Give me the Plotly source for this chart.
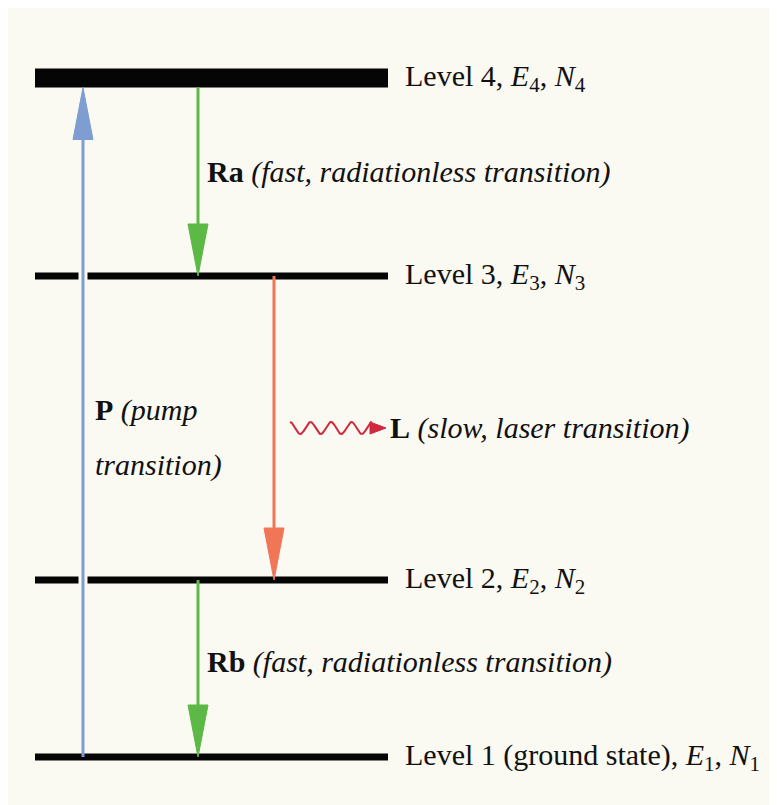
import numpy as np
import plotly.graph_objects as go

# ---------------- data ----------------
level_names = ["Level 1 (ground state)", "Level 2", "Level 3", "Level 4"]
level_index = [1, 2, 3, 4]
level_energy = [48, 225, 529, 727]          # arbitrary energy units (vertical position)

trans_names = ["P", "Ra", "L", "Rb"]
trans_desc = ["(pump<br>transition)", "(fast, radiationless transition)",
              "(slow, laser transition)", "(fast, radiationless transition)"]
trans_from = [1, 4, 3, 2]
trans_to = [4, 3, 2, 1]

# ---------------- styles / layout ----------------
W, H = 769, 797           # page has an 8px body margin
BG = "#FAF9F2"
FONT = "Liberation Serif"
FS = 30
bar_x0, bar_x1 = 35, 388
level_thick = {1: 7, 2: 7, 3: 7, 4: 19}
trans_x = {"P": 83, "Ra": 198, "L": 274, "Rb": 198}
trans_col = {"P": "#7E9DD0", "Ra": "#5CB946", "L": "#F07656", "Rb": "#5CB946"}
head_len, head_half = 52, 10
TXT = "#111111"

E = dict(zip(level_index, level_energy))

fig = go.Figure()

# levels
for idx, en in zip(level_index, level_energy):
    fig.add_trace(go.Scatter(x=[bar_x0, bar_x1], y=[en, en], mode="lines",
                             line=dict(color="#050505", width=level_thick[idx]),
                             hoverinfo="skip", showlegend=False))

# gaps in levels 2 and 3 around the pump line
for idx in (2, 3):
    en = E[idx]
    fig.add_trace(go.Scatter(x=[trans_x["P"], trans_x["P"]],
                             y=[en - 5, en + 5], mode="lines",
                             line=dict(color=BG, width=9),
                             hoverinfo="skip", showlegend=False))

for name, f, t in zip(trans_names, trans_from, trans_to):
    x = trans_x[name]
    y0 = E[f] - (level_thick[f] / 2.0 if f == 4 else 0)
    y1 = E[t] - (level_thick[t] / 2.0 if t == 4 else 0)
    d = 1 if y1 > y0 else -1
    base = y1 - d * head_len
    col = trans_col[name]
    fig.add_trace(go.Scatter(x=[x, x], y=[y0, base], mode="lines",
                             line=dict(color=col, width=3),
                             hoverinfo="skip", showlegend=False))
    fig.add_trace(go.Scatter(x=[x - head_half, x + head_half, x, x - head_half],
                             y=[base, base, y1, base], mode="lines",
                             fill="toself", fillcolor=col,
                             line=dict(color=col, width=1),
                             hoverinfo="skip", showlegend=False))

# wavy photon arrow
wy = 377
wx = np.linspace(290, 372, 200)
wave = wy + 6 * np.sin((wx - 290) / (372 - 290) * 2 * np.pi * 4 + np.pi / 2)
fig.add_trace(go.Scatter(x=wx, y=wave, mode="lines",
                         line=dict(color="#D0283C", width=2),
                         hoverinfo="skip", showlegend=False))
fig.add_trace(go.Scatter(x=[370, 386, 370, 370], y=[wy + 6, wy, wy - 6, wy + 6],
                         mode="lines", fill="toself", fillcolor="#D0283C",
                         line=dict(color="#D0283C", width=1),
                         hoverinfo="skip", showlegend=False))

# level labels
for idx, name, en in zip(level_index, level_names, level_energy):
    txt = f"{name}, <i>E</i><sub>{idx}</sub>, <i>N</i><sub>{idx}</sub>"
    fig.add_annotation(x=403, y=en, text=txt, showarrow=False,
                       xanchor="left", yanchor="middle",
                       font=dict(family=FONT, size=FS, color=TXT))

# transition labels
label_pos = {"Ra": (205, 633), "L": (388, 377), "Rb": (205, 143)}
for name, desc in zip(trans_names, trans_desc):
    if name == "P":
        fig.add_annotation(x=93, y=395, text=f"<b>{name}</b> <i>(pump</i>",
                           showarrow=False, xanchor="left", yanchor="middle",
                           font=dict(family=FONT, size=FS, color=TXT))
        fig.add_annotation(x=93, y=340, text="<i>transition)</i>",
                           showarrow=False, xanchor="left", yanchor="middle",
                           font=dict(family=FONT, size=FS, color=TXT))
    else:
        px, py = label_pos[name]
        fig.add_annotation(x=px, y=py, text=f"<b>{name}</b> <i>{desc}</i>",
                           showarrow=False, xanchor="left", yanchor="middle",
                           font=dict(family=FONT, size=FS, color=TXT))

fig.update_layout(width=W, height=H, margin=dict(l=0, r=0, t=0, b=0),
                  paper_bgcolor=BG, plot_bgcolor=BG, showlegend=False,
                  xaxis=dict(range=[8, 8 + W], visible=False, fixedrange=True),
                  yaxis=dict(range=[0, H], visible=False, fixedrange=True))

fig.write_html("out.html")
